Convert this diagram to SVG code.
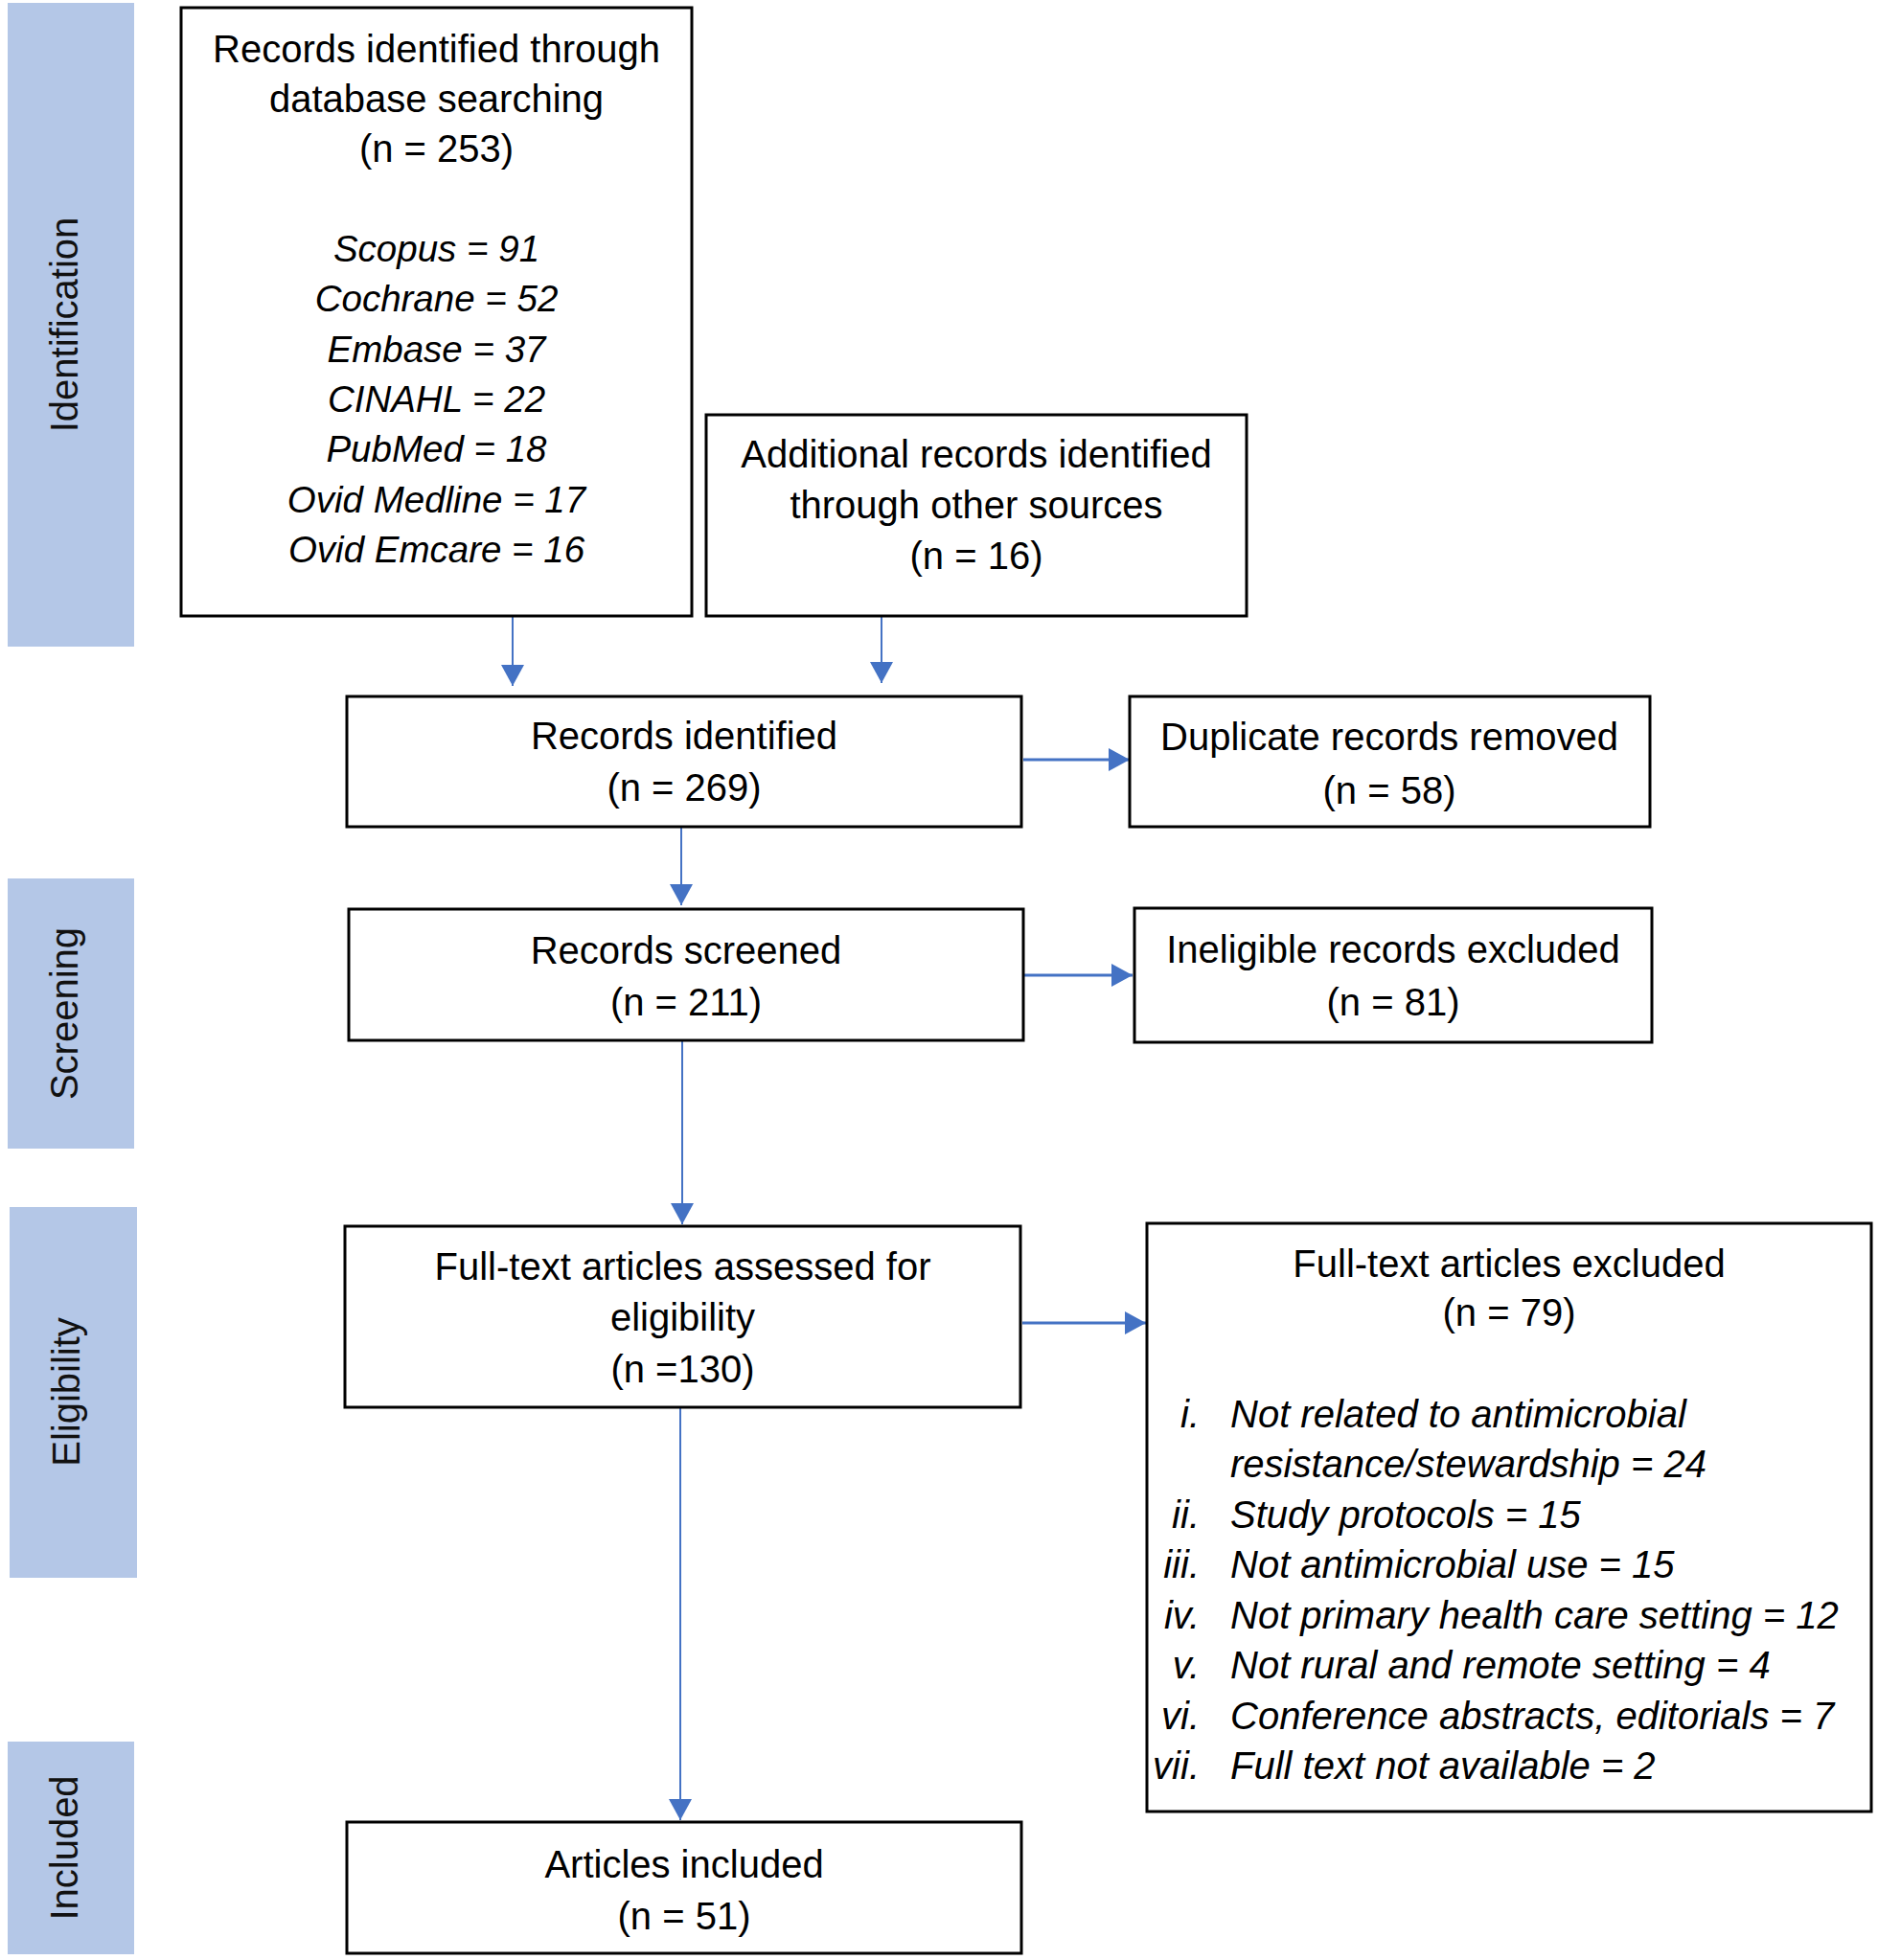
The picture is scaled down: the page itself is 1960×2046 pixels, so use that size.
<svg xmlns="http://www.w3.org/2000/svg" width="1960" height="2046" viewBox="0 0 1960 2046">
<style>
  .band{fill:#b4c7e7}
  .bt{font-family:"Liberation Sans",Arial,sans-serif;font-size:40px;fill:#111;text-anchor:middle}
  .box{fill:#fff;stroke:#000;stroke-width:3}
  .t{font-family:"Liberation Sans",Arial,sans-serif;font-size:40px;fill:#000;text-anchor:middle}
  .i{font-style:italic;font-size:38.5px}
  .num{font-family:"Liberation Sans",Arial,sans-serif;font-size:40px;font-style:italic;fill:#000;text-anchor:end}
  .item{font-family:"Liberation Sans",Arial,sans-serif;font-size:40px;font-style:italic;fill:#000;text-anchor:start}
  .cv{stroke:#4472c4;stroke-width:2;fill:none}
  .ch{stroke:#4472c4;stroke-width:3;fill:none}
</style>
<defs>
  <marker id="ah" markerUnits="userSpaceOnUse" markerWidth="24" markerHeight="24" viewBox="0 0 22 24" refX="22" refY="12" orient="auto">
    <path d="M0,0 L22,12 L0,24 z" fill="#4472c4"/>
  </marker>
</defs>
<rect width="1960" height="2046" fill="#fff"/>

<g id="band-identification">
  <rect class="band" x="8" y="3" width="132" height="672"/>
  <text class="bt" transform="translate(81,339) rotate(-90)">Identification</text>
</g>
<g id="band-screening">
  <rect class="band" x="8" y="917" width="132" height="282"/>
  <text class="bt" transform="translate(81,1058) rotate(-90)">Screening</text>
</g>
<g id="band-eligibility">
  <rect class="band" x="10" y="1260" width="133" height="387"/>
  <text class="bt" transform="translate(83,1453) rotate(-90)">Eligibility</text>
</g>
<g id="band-included">
  <rect class="band" x="8" y="1818" width="132" height="222"/>
  <text class="bt" transform="translate(81,1929) rotate(-90)">Included</text>
</g>

<g id="connectors">
  <line class="cv" x1="535" y1="644" x2="535" y2="716" marker-end="url(#ah)"/>
  <line class="cv" x1="920" y1="644" x2="920" y2="713" marker-end="url(#ah)"/>
  <line class="cv" x1="711" y1="864" x2="711" y2="945" marker-end="url(#ah)"/>
  <line class="cv" x1="712" y1="1087" x2="712" y2="1278" marker-end="url(#ah)"/>
  <line class="cv" x1="710" y1="1470" x2="710" y2="1900" marker-end="url(#ah)"/>
  <line class="ch" x1="1068" y1="793" x2="1179" y2="793" marker-end="url(#ah)"/>
  <line class="ch" x1="1069" y1="1018" x2="1182" y2="1018" marker-end="url(#ah)"/>
  <line class="ch" x1="1067" y1="1381" x2="1196" y2="1381" marker-end="url(#ah)"/>
</g>

<g id="node-database">
  <rect class="box" x="189" y="8" width="533" height="635"/>
  <text class="t" x="455.5" y="65">Records identified through</text>
  <text class="t" x="455.5" y="117">database searching</text>
  <text class="t" x="455.5" y="169">(n = 253)</text>
  <text class="t i" x="455.5" y="273">Scopus = 91</text>
  <text class="t i" x="455.5" y="325">Cochrane = 52</text>
  <text class="t i" x="455.5" y="378">Embase = 37</text>
  <text class="t i" x="455.5" y="430">CINAHL = 22</text>
  <text class="t i" x="455.5" y="482">PubMed = 18</text>
  <text class="t i" x="455.5" y="535">Ovid Medline = 17</text>
  <text class="t i" x="455.5" y="587">Ovid Emcare = 16</text>
</g>

<g id="node-other-sources">
  <rect class="box" x="737" y="433" width="564" height="210"/>
  <text class="t" x="1019" y="488">Additional records identified</text>
  <text class="t" x="1019" y="541">through other sources</text>
  <text class="t" x="1019" y="594">(n = 16)</text>
</g>

<g id="node-records-identified">
  <rect class="box" x="362" y="727" width="704" height="136"/>
  <text class="t" x="714" y="782">Records identified</text>
  <text class="t" x="714" y="836">(n = 269)</text>
</g>

<g id="node-duplicates">
  <rect class="box" x="1179" y="727" width="543" height="136"/>
  <text class="t" x="1450" y="783">Duplicate records removed</text>
  <text class="t" x="1450" y="839">(n = 58)</text>
</g>

<g id="node-screened">
  <rect class="box" x="364" y="949" width="704" height="137"/>
  <text class="t" x="716" y="1006">Records screened</text>
  <text class="t" x="716" y="1060">(n = 211)</text>
</g>

<g id="node-ineligible">
  <rect class="box" x="1184" y="948" width="540" height="140"/>
  <text class="t" x="1454" y="1005">Ineligible records excluded</text>
  <text class="t" x="1454" y="1060">(n = 81)</text>
</g>

<g id="node-fulltext-assessed">
  <rect class="box" x="360" y="1280" width="705" height="189"/>
  <text class="t" x="712.5" y="1336">Full-text articles assessed for</text>
  <text class="t" x="712.5" y="1389">eligibility</text>
  <text class="t" x="712.5" y="1443">(n =130)</text>
</g>

<g id="node-fulltext-excluded">
  <rect class="box" x="1197" y="1277" width="756" height="614"/>
  <text class="t" x="1575" y="1333">Full-text articles excluded</text>
  <text class="t" x="1575" y="1384">(n = 79)</text>
  <text class="num" x="1252" y="1490">i.</text>
  <text class="item" x="1284" y="1490">Not related to antimicrobial</text>
  <text class="item" x="1284" y="1542">resistance/stewardship = 24</text>
  <text class="num" x="1252" y="1595">ii.</text>
  <text class="item" x="1284" y="1595">Study protocols = 15</text>
  <text class="num" x="1252" y="1647">iii.</text>
  <text class="item" x="1284" y="1647">Not antimicrobial use = 15</text>
  <text class="num" x="1252" y="1700">iv.</text>
  <text class="item" x="1284" y="1700">Not primary health care setting = 12</text>
  <text class="num" x="1252" y="1752">v.</text>
  <text class="item" x="1284" y="1752">Not rural and remote setting = 4</text>
  <text class="num" x="1252" y="1805">vi.</text>
  <text class="item" x="1284" y="1805">Conference abstracts, editorials = 7</text>
  <text class="num" x="1252" y="1857">vii.</text>
  <text class="item" x="1284" y="1857">Full text not available = 2</text>
</g>

<g id="node-included">
  <rect class="box" x="362" y="1902" width="704" height="137"/>
  <text class="t" x="714" y="1960">Articles included</text>
  <text class="t" x="714" y="2014">(n = 51)</text>
</g>
</svg>
